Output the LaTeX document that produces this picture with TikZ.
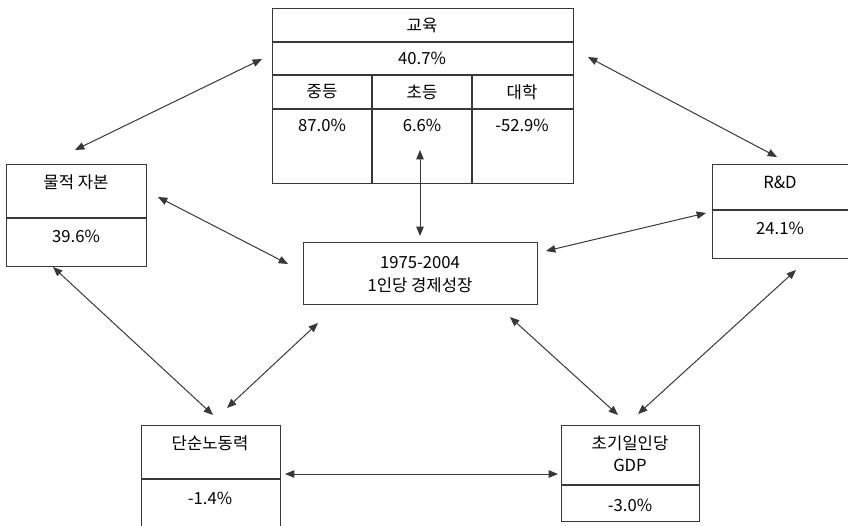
\documentclass[tikz,border=0pt]{standalone}
\usepackage{fontspec}
\setmainfont{Noto Sans CJK KR}
\usetikzlibrary{arrows.meta}
\definecolor{ink}{gray}{0.22}
\tikzset{
  cell/.style={draw=ink, line width=0.8pt, rectangle, inner sep=0pt, anchor=north west},
  txt/.style={inner sep=0pt, font=\fontsize{12.5pt}{14pt}\selectfont, text=black},
  link/.style={draw=ink, line width=0.75pt, {Triangle[length=7pt,width=5.6pt]}-{Triangle[length=7pt,width=5.6pt]}}
}
\begin{document}
\begin{tikzpicture}[x=0.75pt, y=-0.75pt]
  \useasboundingbox (0,0) rectangle (848,525);
  \clip (0,0) rectangle (848,525);

  % education table
  \node[cell, minimum width=301*0.75pt, minimum height=175*0.75pt] (edu) at (272,8) {};
  \draw[draw=ink, line width=0.8pt] (272,42) -- (573,42) (272,75) -- (573,75) (272,109) -- (573,109)
        (372,75) -- (372,183) (472,75) -- (472,183);
  \node[txt] (eduT) at (422,25) {교육};
  \node[txt] (eduV) at (422,58) {40.7\%};
  \node[txt] (secT) at (322,92) {중등};
  \node[txt] (priT) at (422,92) {초등};
  \node[txt] (uniT) at (522,92) {대학};
  \node[txt] (secV) at (322,125) {87.0\%};
  \node[txt] (priV) at (422,125) {6.6\%};
  \node[txt] (uniV) at (522,125) {-52.9\%};

  % physical capital
  \node[cell, minimum width=140*0.75pt, minimum height=102*0.75pt] (cap) at (6,164) {};
  \draw[draw=ink, line width=0.8pt] (6,218) -- (146,218);
  \node[txt] (capT) at (76,182) {물적 자본};
  \node[txt] (capV) at (76,236) {39.6\%};

  % R&D
  \node[cell, minimum width=136*0.75pt, minimum height=94*0.75pt] (rd) at (712,164) {};
  \draw[draw=ink, line width=0.8pt] (712,210) -- (848,210);
  \node[txt] (rdT) at (780,182) {R\&D};
  \node[txt] (rdV) at (780,228) {24.1\%};

  % growth (centre)
  \node[cell, minimum width=234*0.75pt, minimum height=62*0.75pt] (gr) at (303,242) {};
  \node[txt] (grA) at (420,263) {1975-2004};
  \node[txt] (grB) at (420,285) {1인당 경제성장};

  % unskilled labour
  \node[cell, minimum width=139*0.75pt, minimum height=120*0.75pt] (lab) at (141,425) {};
  \draw[draw=ink, line width=0.8pt] (141,479) -- (280,479);
  \node[txt] (labT) at (210,443) {단순노동력};
  \node[txt] (labV) at (210,498) {-1.4\%};

  % initial GDP per capita
  \node[cell, minimum width=138*0.75pt, minimum height=96*0.75pt] (gdp) at (561,425) {};
  \draw[draw=ink, line width=0.8pt] (561,485) -- (699,485);
  \node[txt] (gdpT) at (630,443) {초기일인당};
  \node[txt] (gdpG) at (630,465) {GDP};
  \node[txt] (gdpV) at (630,505) {-3.0\%};

  % connector ends
  \coordinate (e1) at (262,59);  \coordinate (c1) at (75,150);
  \coordinate (e2) at (588,57);  \coordinate (r1) at (777,157);
  \coordinate (e3) at (420,150); \coordinate (g1) at (420,236);
  \coordinate (c2) at (158,197); \coordinate (g2) at (288,264);
  \coordinate (r2) at (706,213); \coordinate (g3) at (546,251);
  \coordinate (c3) at (53,267);  \coordinate (l1) at (213,415);
  \coordinate (g4) at (318,323); \coordinate (l2) at (227,408);
  \coordinate (g5) at (510,317); \coordinate (p1) at (618,415);
  \coordinate (r3) at (796,270); \coordinate (p2) at (638,414);
  \coordinate (l3) at (285,474); \coordinate (p3) at (558,474);

  \draw[link] (e1) -- (c1);
  \draw[link] (e2) -- (r1);
  \draw[link] (e3) -- (g1);
  \draw[link] (c2) -- (g2);
  \draw[link] (r2) -- (g3);
  \draw[link] (c3) -- (l1);
  \draw[link] (g4) -- (l2);
  \draw[link] (g5) -- (p1);
  \draw[link] (r3) -- (p2);
  \draw[link] (l3) -- (p3);
\end{tikzpicture}
\end{document}
